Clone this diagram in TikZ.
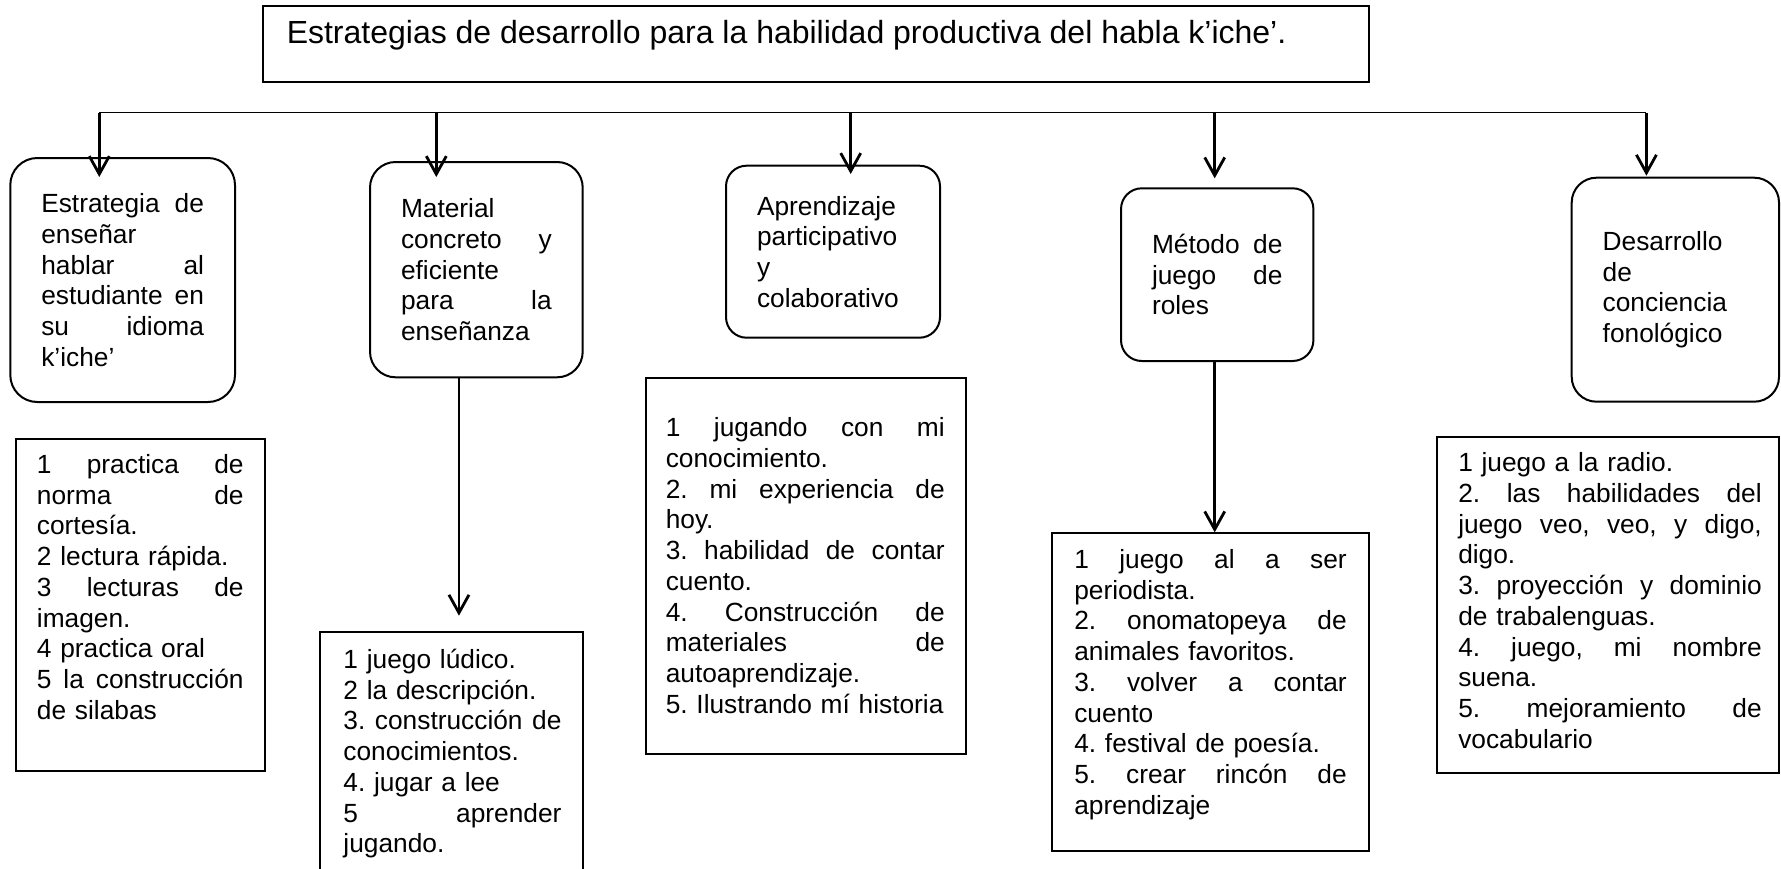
\documentclass[tikz,border=0pt]{standalone}
\usepackage{fontspec}
\setmainfont{Liberation Sans}
\usetikzlibrary{arrows.meta}
\frenchspacing

\newcommand{\bodyfont}{\fontsize{13.15}{15.35}\selectfont}
\newcommand{\titlefont}{\fontsize{16}{18.4}\selectfont}
% one justified line of a box, \jw is its width
\newcommand{\jw}{100pt}
\newcommand{\jl}[1]{\leavevmode\hbox to \jw{\spaceskip=0.278em plus 1fil\relax #1}}

\tikzset{every picture/.style={line width=0.75pt}}
\tikzset{
  rbox/.style={draw, line width=1pt, rounded corners=#1, inner xsep=15.5pt, inner ysep=0pt, align=left, font=\bodyfont},
  frame/.style={draw, line width=1pt, inner sep=0pt},
  listtext/.style={inner sep=0pt, anchor=base west, align=left, font=\bodyfont},
  bus/.style={line width=0.7pt},
  arr/.style={-{Straight Barb[length=9pt,width=10pt]}, line width=1.4pt},
}

\begin{document}
\begin{tikzpicture}[x=0.5pt,y=0.5pt,yscale=-1,xscale=1]
	\useasboundingbox (0,0) rectangle (1781,868);
	\clip (0,0) rectangle (1781,868);

	% Title
	\node[frame, minimum width=553pt, minimum height=38pt] (title) at (816,44) {};
	\node[inner sep=0pt, anchor=base west, font=\titlefont] (titletxt) at (286,43.3) {Estrategias de desarrollo para la habilidad productiva del habla k’iche’.};

	%Rounded Rect
	\def\jw{81.35pt}
	\node[rbox=13.5pt, text width=\jw, minimum width=112.35pt, minimum height=122pt] (r1) at (122.65,280) {\jl{Estrategia de}\\ enseñar\\ \jl{hablar al}\\ \jl{estudiante en}\\ \jl{su idioma}\\ k’iche’};
	%Rounded Rect
	\def\jw{75.35pt}
	\node[rbox=12.8pt, text width=\jw, minimum width=106.35pt, minimum height=107.65pt] (r2) at (476.35,269.65) {Material\\ \jl{concreto y}\\ eficiente\\ \jl{para la}\\ enseñanza};
	%Rounded Rect
	\def\jw{76pt}
	\node[rbox=10.3pt, text width=\jw, minimum width=107pt, minimum height=86pt] (r3) at (833,251.7) {Aprendizaje\\ participativo\\ y\\ colaborativo};
	%Rounded Rect
	\def\jw{65.2pt}
	\node[rbox=10.4pt, text width=\jw, minimum width=96.2pt, minimum height=86.35pt] (r4) at (1217.2,274.65) {\jl{Método de}\\ \jl{juego de}\\ roles};
	%Rounded Rect
	\def\jw{72.65pt}
	\node[rbox=12.4pt, text width=\jw, minimum width=103.65pt, minimum height=112pt] (r5) at (1675.35,289.7) {Desarrollo\\ de\\ conciencia\\ fonológico};

	%Shape: Rectangle
	\node[frame, minimum width=124.3pt, minimum height=166pt] (boxA) at (140.3,605) {};
	\node[frame, minimum width=131.2pt, minimum height=134.15pt] (boxB) at (451.5,765.85) {};
	\node[frame, minimum width=159.85pt, minimum height=188.3pt] (boxC) at (805.65,566) {};
	\node[frame, minimum width=158.4pt, minimum height=158.85pt] (boxD) at (1210.6,692.15) {};
	\node[frame, minimum width=171.1pt, minimum height=168.3pt] (boxE) at (1607.9,605) {};

	% Text Node
	\def\jw{103.3pt}
	\node[listtext, text width=\jw] (txtA) at (36.2,473.5) {\jl{1 practica de}\\ \jl{norma de}\\ cortesía.\\ 2 lectura rápida.\\ \jl{3 lecturas de}\\ imagen.\\ 4 practica oral\\ \jl{5 la construcción}\\ de silabas};
	% Text Node
	\def\jw{109pt}
	\node[listtext, text width=\jw] (txtB) at (342.7,668.5) {1 juego lúdico.\\ 2 la descripción.\\ \jl{3. construcción de}\\ conocimientos.\\ 4. jugar a lee\\ \jl{5 aprender}\\ jugando.};
	% Text Node
	\def\jw{139.5pt}
	\node[listtext, text width=\jw] (txtC) at (665,436.8) {\jl{1 jugando con mi}\\ conocimiento.\\ \jl{2. mi experiencia de}\\ hoy.\\ \jl{3. habilidad de contar}\\ cuento.\\ \jl{4. Construcción de}\\ \jl{materiales de}\\ autoaprendizaje.\\ 5. Ilustrando mí historia};
	% Text Node
	\def\jw{136.25pt}
	\node[listtext, text width=\jw] (txtD) at (1073.5,568.5) {\jl{1 juego al a ser}\\ periodista.\\ \jl{2. onomatopeya de}\\ animales favoritos.\\ \jl{3. volver a contar}\\ cuento\\ 4. festival de poesía.\\ \jl{5. crear rincón de}\\ aprendizaje};
	% Text Node
	\def\jw{151.75pt}
	\node[listtext, text width=\jw] (txtE) at (1457.5,471.8) {1 juego a la radio.\\ \jl{2. las habilidades del}\\ \jl{juego veo, veo, y digo,}\\ digo.\\ \jl{3. proyección y dominio}\\ de trabalenguas.\\ \jl{4. juego, mi nombre}\\ suena.\\ \jl{5. mejoramiento de}\\ vocabulario};

	%Straight Lines
	\coordinate (busL) at (99.3,112.7);
	\coordinate (busR) at (1646.4,112.7);
	\draw[bus] (busL) -- (busR);
	\coordinate (a1) at (99.3,112.7);
	\coordinate (a2) at (436.3,112.7);
	\coordinate (a3) at (850.7,112.7);
	\coordinate (a4) at (1214.7,112.7);
	\coordinate (a5) at (1646.4,112.7);
	\draw[arr, shorten >=-10pt] (a1) -- (a1 |- r1.north);
	\draw[arr, shorten >=-8pt] (a2) -- (a2 |- r2.north);
	\draw[arr, shorten >=-4.65pt] (a3) -- (a3 |- r3.north);
	\draw[arr, shorten >=4.5pt] (a4) -- (a4 |- r4.north);
	\draw[arr, shorten >=0.5pt] (a5) -- (a5 |- r5.north);

	%Straight Lines
	\coordinate (d2) at ([xshift=-8.7pt]r2.south);
	\draw[arr, shorten >=7.5pt] (d2) -- (d2 |- boxB.north);
	\coordinate (d4) at ([xshift=-1.25pt]r4.south);
	\draw[arr] (d4) -- (d4 |- boxD.north);

\end{tikzpicture}
\end{document}
